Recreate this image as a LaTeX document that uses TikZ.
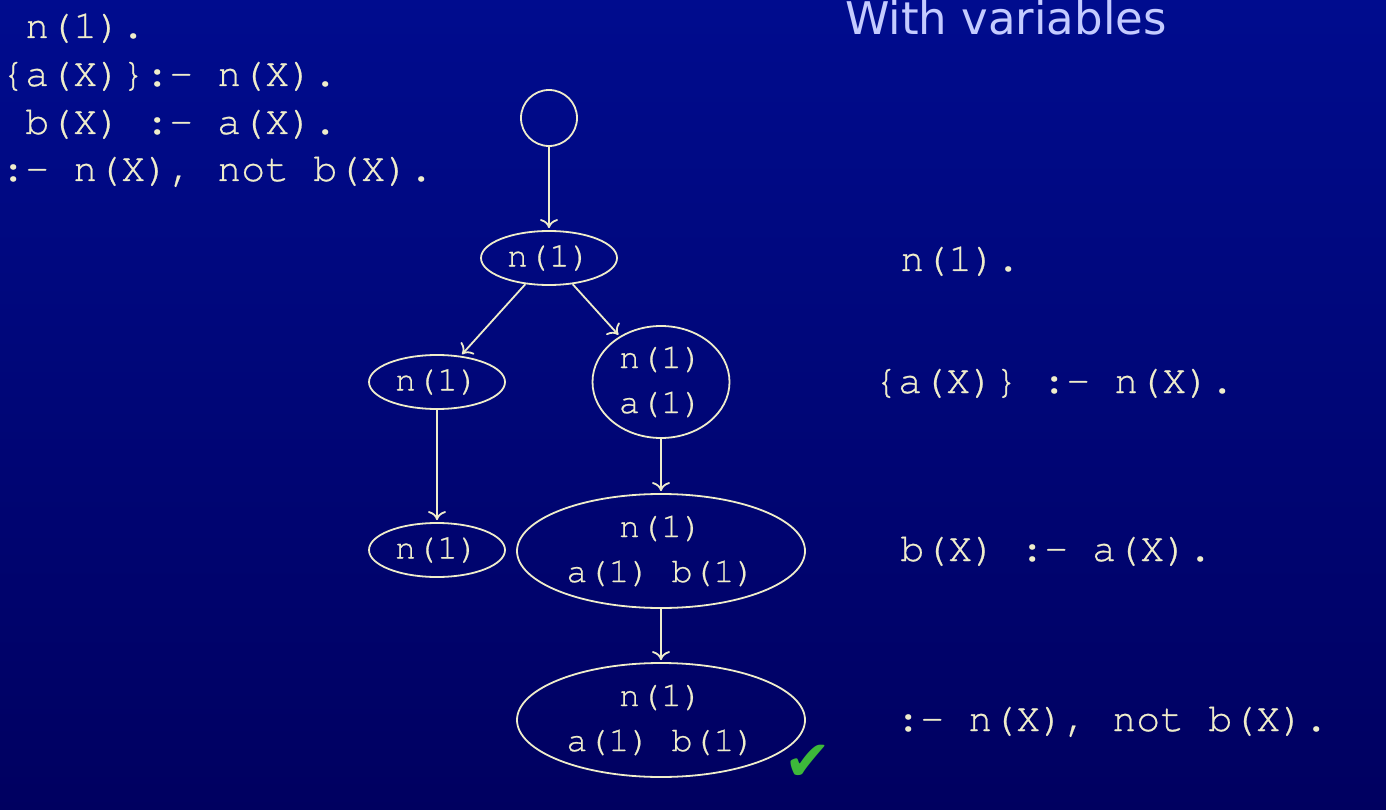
\documentclass[tikz,border=0pt]{standalone}
\usepackage{fontspec}
\newfontfamily\monofont[FakeBold=0.6]{TeX Gyre Cursor}
\newfontfamily\titlefont{DejaVu Sans}
\newfontfamily\symbfont{DejaVu Sans}
\usetikzlibrary{shapes.geometric,arrows.meta}
\definecolor{bgtop}{HTML}{000C8E}
\definecolor{bgmid}{HTML}{000882}
\definecolor{bgbot}{HTML}{000060}
\definecolor{cream}{HTML}{EFEDCB}
\definecolor{titleblue}{HTML}{C4CBFF}
\definecolor{checkgreen}{HTML}{3DB83A}
\tikzset{
  codetext/.style={anchor=base west, inner sep=0pt, text=cream,
    font=\monofont\fontsize{40}{48}\selectfont},
  treenode/.style={ellipse, draw=cream, line width=1.8pt, inner sep=0pt,
    text=cream, align=center, font=\monofont\fontsize{35}{45}\selectfont},
  rootnode/.style={circle, draw=cream, line width=1.8pt, inner sep=0pt,
    minimum size=56pt},
  edge/.style={draw=cream, line width=1.8pt,
    -{Computer Modern Rightarrow[length=9pt,width=18pt]}, shorten >=2pt}
}
\begin{document}
\begin{tikzpicture}[x=1pt,y=-1pt]
\shade[top color=bgtop, middle color=bgmid, bottom color=bgbot] (0,0) rectangle (1386,810);
\useasboundingbox (0,0) rectangle (1386,810);

% title
\node[anchor=base west, inner sep=0pt, text=titleblue,
      font=\titlefont\fontsize{45}{54}\selectfont] (title) at (845,35) {With variables};

% program, top left
\node[codetext] (p1) at (1,38) {\ n(1).};
\node[codetext] (p2) at (1,86) {\{a(X)\}:- n(X).};
\node[codetext] (p3) at (1,134) {\ b(X) :- a(X).};
\node[codetext] (p4) at (1,181) {:- n(X), not b(X).};

% tree
\node[rootnode] (root) at (549,118) {};
\node[treenode, minimum width=136pt, minimum height=54pt] (n1) at (549,258) {n(1)};
\node[treenode, minimum width=136pt, minimum height=54pt] (l1) at (437,382) {n(1)};
\node[treenode, minimum width=137pt, minimum height=112pt] (r1) at (661,382) {n(1)\\a(1)};
\node[treenode, minimum width=136pt, minimum height=54pt] (l2) at (437,550) {n(1)};
\node[treenode, minimum width=288pt, minimum height=114pt] (r2) at (661,551) {n(1)\\a(1) b(1)};
\node[treenode, minimum width=288pt, minimum height=114pt] (r3) at (661,720) {n(1)\\a(1) b(1)};

\draw[edge] (root) -- (n1);
\draw[edge] (n1) -- (l1);
\draw[edge] (n1) -- (r1);
\draw[edge] (l1) -- (l2);
\draw[edge] (r1) -- (r2);
\draw[edge] (r2) -- (r3);

% check mark
\node[inner sep=0pt, text=checkgreen, font=\symbfont\fontsize{56}{56}\selectfont] (check) at (808,763) {✔};

% rule labels, right
\node[codetext] (q1) at (900,271) {n(1).};
\node[codetext] (q2) at (874,393) {\{a(X)\} :- n(X).};
\node[codetext] (q3) at (900,561) {b(X) :- a(X).};
\node[codetext] (q4) at (896,731) {:- n(X), not b(X).};
\end{tikzpicture}
\end{document}
